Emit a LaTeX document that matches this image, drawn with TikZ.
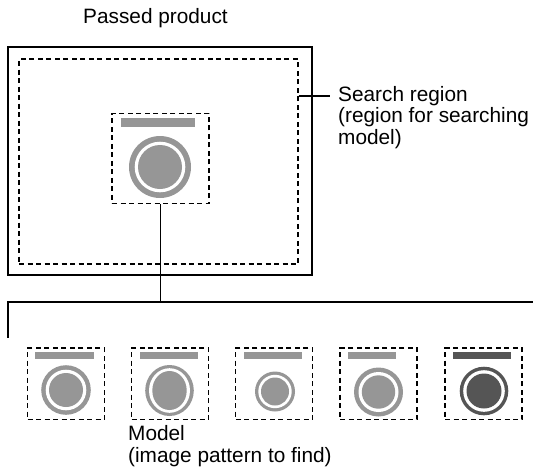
\documentclass[tikz,border=0pt]{standalone}
\usepackage{fontspec}
\setmainfont{Liberation Sans}
\definecolor{mgray}{RGB}{150,150,150}
\definecolor{mdark}{RGB}{85,85,85}
\begin{document}
\begin{tikzpicture}[x=1pt,y=-1pt,
  font=\fontsize{20.8}{21.8}\selectfont,
  framebox/.style={draw, line width=2pt, inner sep=0pt},
  dashbox/.style={draw, dash pattern=on 5pt off 3.5pt, line width=1.3pt, inner sep=0pt},
  smallbox/.style={dashbox, minimum width=77pt, minimum height=71.5pt},
  link/.style={line width=1.4pt},
  lbl/.style={inner sep=0pt, align=left, anchor=base west}]
\useasboundingbox (0,0) rectangle (533,469);

% product frame and search region
\node[framebox, minimum width=304pt, minimum height=228pt] (product) at (160,161) {};
\node[dashbox, minimum width=279pt, minimum height=205pt] (search) at (158.5,161.5) {};
\node[dashbox, minimum width=97pt, minimum height=90pt] (topmodel) at (160.5,158.4) {};

% top model icon
\fill[mgray] (121,118) rectangle (195,127);
\fill[mgray] (160,167) circle (31);
\fill[white] (160,167) circle (25.3);
\fill[mgray] (160,167) circle (22);

% labels (base anchor = baseline of last line)
\node[lbl] (passed) at (83,23.3) {Passed product};
\node[lbl] (searchlbl) at (338,144.6) {Search region\\(region for searching\\model)};
\node[lbl] (modellbl) at (128,462.3) {Model\\(image pattern to find)};

% leader to search region
\coordinate (ldr) at (330,96);
\draw[link] (search.east |- ldr) -- (ldr);

% tree connector
\coordinate (hleft) at (8,302);
\coordinate (hright) at (533,302);
\coordinate (vend) at (8,337.5);
\draw[link] (topmodel.south) -- (topmodel.south |- hleft);
\draw[link] (hright) -- (hleft) -- (vend);

% bottom model boxes
\node[smallbox] (m1) at (66,383.75) {};
\node[smallbox] (m2) at (170,383.75) {};
\node[smallbox] (m3) at (274.3,383.75) {};
\node[smallbox] (m4) at (378.5,383.75) {};
\node[smallbox] (m5) at (483.5,383.75) {};

% model 1
\fill[mgray] (35,352.3) rectangle (94,359);
\fill[mgray] (66,390) circle (24.8);
\fill[white] (66,390) circle (20.3);
\fill[mgray] (66,390) circle (17);
% model 2 (stretched)
\fill[mgray] (139.5,352.3) rectangle (198,359);
\fill[mgray] (169.5,390.5) ellipse (24.3 and 25.5);
\fill[white] (169.5,390.5) ellipse (20.5 and 22.3);
\fill[mgray] (169.5,390.5) ellipse (17.2 and 19.5);
% model 3 (smaller)
\fill[mgray] (244,352.3) rectangle (302.3,359);
\fill[mgray] (275,391.5) circle (20);
\fill[white] (275,391.5) circle (16.7);
\fill[mgray] (275,391.5) circle (14);
% model 4 (shorter bar)
\fill[mgray] (348.3,352.3) rectangle (396,359);
\fill[mgray] (378.5,392) circle (24.5);
\fill[white] (378.5,392) circle (20);
\fill[mgray] (378.5,392) circle (16.7);
% model 5 (dark)
\fill[mdark] (452.7,352.3) rectangle (511,359);
\fill[mdark] (484,391) circle (24.3);
\fill[white] (484,391) circle (20.8);
\fill[mdark] (484,391) circle (17.5);
\end{tikzpicture}
\end{document}
